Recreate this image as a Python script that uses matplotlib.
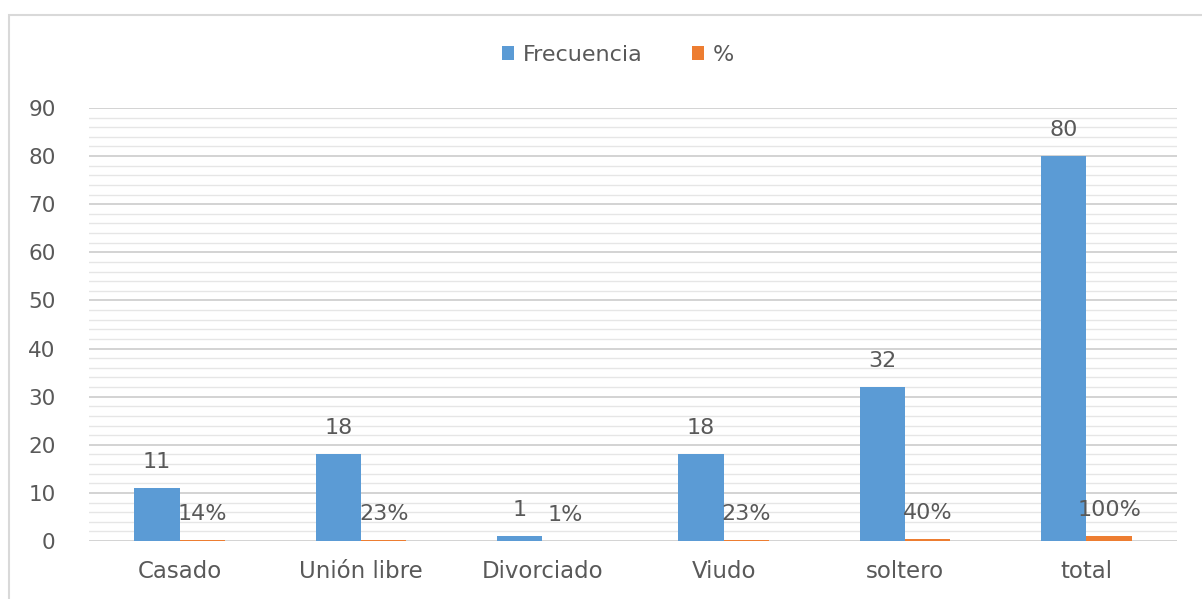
import matplotlib.pyplot as plt
import numpy as np
from matplotlib.patches import Rectangle

categories = ['Casado', 'Unión libre', 'Divorciado', 'Viudo', 'soltero', 'total']
frecuencia = [11, 18, 1, 18, 32, 80]
porcentaje = [0.14, 0.23, 0.01, 0.23, 0.40, 1.00]
pct_labels = ['14%', '23%', '1%', '23%', '40%', '100%']

blue = '#5b9bd5'
orange = '#ed7d31'
text_color = '#595959'

plt.rcParams['font.family'] = ['DejaVu Sans']

fig = plt.figure(figsize=(12.02, 5.99), dpi=100)
ax = fig.add_axes([89 / 1202, 1 - 541 / 599, 1088 / 1202, 433 / 599])

# light frame around the chart (right and bottom edges run off the image)
fig.patches.append(Rectangle((9 / 1202, -0.05), 1.2, 1 - 15 / 599 + 0.05,
                             transform=fig.transFigure, fill=False,
                             edgecolor='#d9d9d9', linewidth=1.5))

x = np.arange(len(categories))
w = 0.25

b1 = ax.bar(x - w / 2, frecuencia, width=w, color=blue, label='Frecuencia', zorder=3)
b2 = ax.bar(x + w / 2, porcentaje, width=w, color=orange, label='%', zorder=3)

for i in range(len(categories)):
    ax.annotate(str(frecuencia[i]), (x[i] - w / 2, frecuencia[i]),
                xytext=(0, 19), textcoords='offset points', ha='center', va='center',
                fontsize=16, color=text_color)
    ax.annotate(pct_labels[i], (x[i] + w / 2, porcentaje[i]),
                xytext=(0, 19), textcoords='offset points', ha='center', va='center',
                fontsize=16, color=text_color)

ax.set_xlim(-0.5, len(categories) - 0.5)
ax.set_ylim(0, 90)
ax.set_yticks(np.arange(0, 91, 10))
ax.set_yticks(np.arange(0, 91, 2), minor=True)
ax.grid(axis='y', which='major', color='#d0d0d0', linewidth=1.3, zorder=0)
ax.grid(axis='y', which='minor', color='#e6e6e6', linewidth=1.0, zorder=0)
ax.set_xticks(x)
ax.set_xticklabels(categories)
ax.tick_params(axis='both', which='both', length=0, labelsize=16.5, colors=text_color)
ax.tick_params(axis='y', labelsize=15.5)
ax.tick_params(axis='x', pad=14)
ax.tick_params(axis='y', pad=24)
for s in ax.spines.values():
    s.set_visible(False)

fig.legend(loc='center', bbox_to_anchor=(618 / 1202, 1 - 55 / 599), ncol=2, frameon=False,
           fontsize=16, labelcolor=text_color, handlelength=0.55, handleheight=0.55,
           handletextpad=0.4, columnspacing=2.2)

fig.savefig('out.png', dpi=100)
